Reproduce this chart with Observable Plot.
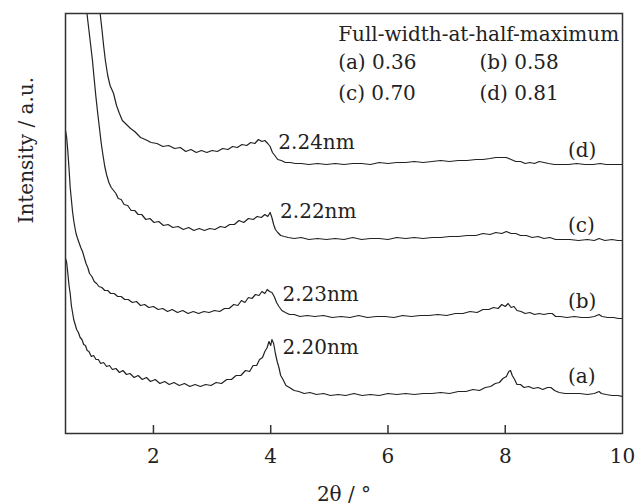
<!DOCTYPE html>
<html><head><meta charset="utf-8">
<script src="https://cdn.jsdelivr.net/npm/d3@7"></script>
<script src="https://cdn.jsdelivr.net/npm/@observablehq/plot@0.6"></script>
<style>html,body{margin:0;padding:0;background:#fff;overflow:hidden}</style>
</head><body><div id="chart"></div>
<script>
// XRD curves: [2θ (deg), intensity (a.u., offset)]
const curveA = [[0.50,175],[0.52,171],[0.54,160],[0.56,148],[0.58,140],[0.60,128],[0.62,121],[0.64,114],[0.66,110],[0.69,104],[0.72,101],[0.75,96],[0.78,94],[0.81,89],[0.84,88],[0.87,83],[0.90,82],[0.94,77],[0.98,78],[1.02,74],[1.06,74],[1.10,70],[1.15,71],[1.20,67],[1.25,68],[1.30,64],[1.36,65],[1.42,61],[1.48,63],[1.54,59],[1.60,60],[1.67,56],[1.74,58],[1.81,54],[1.88,56],[1.95,52],[2.03,54],[2.11,50],[2.19,52],[2.27,49],[2.35,51],[2.44,48],[2.53,50],[2.62,47],[2.71,49],[2.80,47],[2.89,49],[2.98,48],[3.07,51],[3.16,50],[3.25,54],[3.33,54],[3.41,58],[3.49,58],[3.57,63],[3.64,62],[3.70,68],[3.76,68],[3.81,74],[3.86,76],[3.90,82],[3.94,86],[3.97,92],[4.00,88],[4.02,94],[4.05,90],[4.08,80],[4.11,72],[4.14,66],[4.17,58],[4.21,54],[4.26,48],[4.32,46],[4.40,43],[4.48,42],[4.57,40],[4.67,41],[4.78,39],[4.90,40],[5.02,38],[5.15,39],[5.28,38],[5.42,40],[5.56,38],[5.70,39],[5.85,38],[6.00,40],[6.15,39],[6.30,40],[6.45,39],[6.60,40],[6.75,40],[6.90,41],[7.05,40],[7.20,42],[7.33,42],[7.45,44],[7.56,43],[7.66,46],[7.75,47],[7.83,50],[7.90,51],[7.96,55],[8.02,57],[8.06,62],[8.09,63],[8.12,58],[8.16,54],[8.20,49],[8.26,49],[8.32,46],[8.40,47],[8.48,45],[8.56,46],[8.64,44],[8.72,46],[8.78,46],[8.84,43],[8.92,41],[9.02,40],[9.15,40],[9.27,40],[9.40,39],[9.52,40],[9.60,42],[9.64,40],[9.72,39],[9.82,38],[9.92,38],[10.0,37]];
const curveB = [[0.50,303],[0.52,296],[0.54,282],[0.56,265],[0.58,246],[0.60,234],[0.62,222],[0.64,213],[0.66,206],[0.68,200],[0.70,196],[0.73,191],[0.76,186],[0.79,182],[0.82,176],[0.85,170],[0.88,166],[0.91,160],[0.95,157],[0.99,152],[1.03,150],[1.07,147],[1.12,146],[1.17,143],[1.22,143],[1.27,140],[1.33,140],[1.39,137],[1.45,137],[1.51,134],[1.57,134],[1.64,131],[1.71,132],[1.78,128],[1.85,129],[1.92,126],[2.00,127],[2.08,124],[2.16,125],[2.24,122],[2.32,124],[2.41,121],[2.50,123],[2.59,120],[2.68,122],[2.77,120],[2.86,122],[2.95,121],[3.04,123],[3.13,122],[3.21,125],[3.29,125],[3.37,129],[3.44,128],[3.50,133],[3.56,131],[3.62,136],[3.68,135],[3.74,139],[3.80,138],[3.85,142],[3.90,140],[3.94,144],[3.98,142],[4.02,141],[4.06,137],[4.10,131],[4.14,127],[4.19,123],[4.25,121],[4.32,119],[4.40,119],[4.50,117],[4.62,118],[4.75,117],[4.90,118],[5.05,116],[5.20,117],[5.35,116],[5.50,118],[5.65,116],[5.80,117],[5.95,117],[6.10,116],[6.25,118],[6.40,117],[6.55,118],[6.70,118],[6.85,119],[7.00,118],[7.15,120],[7.28,120],[7.40,122],[7.52,121],[7.62,124],[7.72,124],[7.80,126],[7.88,125],[7.94,129],[8.00,127],[8.05,130],[8.10,126],[8.15,127],[8.20,123],[8.27,122],[8.34,120],[8.42,121],[8.50,119],[8.58,120],[8.66,119],[8.74,120],[8.80,120],[8.86,117],[8.94,117],[9.05,116],[9.18,117],[9.30,116],[9.42,116],[9.52,117],[9.60,119],[9.65,117],[9.75,116],[9.85,116],[9.93,115],[10.0,115]];
const curveC = [[0.82,445],[0.86,423],[0.90,403],[0.93,388],[0.96,373],[0.99,354],[1.02,336],[1.05,320],[1.08,305],[1.11,290],[1.14,278],[1.17,267],[1.20,259],[1.24,251],[1.28,246],[1.32,243],[1.36,240],[1.40,235],[1.45,234],[1.50,229],[1.56,228],[1.62,223],[1.68,223],[1.74,219],[1.80,219],[1.87,214],[1.94,215],[2.01,211],[2.09,212],[2.17,208],[2.25,209],[2.33,206],[2.42,207],[2.51,204],[2.60,206],[2.69,203],[2.78,205],[2.87,203],[2.96,205],[3.05,204],[3.14,207],[3.22,206],[3.30,209],[3.38,209],[3.46,213],[3.54,211],[3.62,215],[3.70,214],[3.77,217],[3.84,216],[3.90,219],[3.95,217],[3.99,221],[4.02,216],[4.05,209],[4.08,204],[4.12,201],[4.17,198],[4.23,197],[4.30,196],[4.40,195],[4.52,196],[4.65,194],[4.80,195],[4.95,194],[5.10,195],[5.25,194],[5.40,196],[5.55,194],[5.70,195],[5.85,195],[6.00,194],[6.15,196],[6.30,195],[6.45,196],[6.60,195],[6.75,196],[6.90,196],[7.05,197],[7.20,197],[7.35,198],[7.50,198],[7.62,200],[7.74,199],[7.84,201],[7.94,200],[8.02,202],[8.10,200],[8.18,200],[8.26,198],[8.36,198],[8.46,196],[8.56,197],[8.66,195],[8.76,196],[8.86,194],[8.96,194],[9.10,194],[9.25,193],[9.40,194],[9.52,193],[9.60,195],[9.70,193],[9.82,194],[9.92,193],[10.0,193]];
const curveD = [[1.00,455],[1.05,435],[1.085,423],[1.12,405],[1.15,388],[1.18,373],[1.22,358],[1.26,348],[1.32,340],[1.37,328],[1.42,320],[1.47,313],[1.54,309],[1.61,305],[1.68,302],[1.78,296],[1.86,294],[1.96,291],[2.06,290],[2.16,287],[2.26,288],[2.36,285],[2.46,286],[2.55,282],[2.64,284],[2.73,281],[2.82,283],[2.91,281],[3.00,283],[3.09,282],[3.18,285],[3.27,284],[3.35,287],[3.43,286],[3.51,289],[3.59,288],[3.66,291],[3.73,290],[3.79,294],[3.85,292],[3.90,293],[3.95,290],[3.99,287],[4.03,281],[4.07,278],[4.12,274],[4.18,273],[4.25,271],[4.33,271],[4.42,270],[4.52,270],[4.65,269],[4.80,270],[4.95,269],[5.10,270],[5.25,269],[5.40,270],[5.55,270],[5.70,269],[5.85,271],[6.00,270],[6.15,271],[6.30,271],[6.45,272],[6.60,271],[6.75,272],[6.90,273],[7.05,272],[7.20,273],[7.35,273],[7.50,274],[7.62,274],[7.74,275],[7.84,276],[7.94,276],[8.02,276],[8.10,274],[8.18,272],[8.26,272],[8.34,270],[8.42,271],[8.50,270],[8.58,272],[8.66,271],[8.74,270],[8.84,269],[8.94,269],[9.08,269],[9.22,270],[9.36,269],[9.50,269],[9.62,270],[9.72,269],[9.84,269],[10.0,269]];

const xTicks = [2, 4, 6, 8, 10];
const fwhmTitle = "Full-width-at-half-maximum";
const fwhmLabels = ["(a) 0.36", "(b) 0.58", "(c) 0.70", "(d) 0.81"];
const fwhmX = [5.15, 7.56, 5.15, 7.56];
const fwhmY = [365, 365, 334, 334];
const spacingLabels = ["2.20nm", "2.23nm", "2.22nm", "2.24nm"];
const spacingX = [4.20, 4.20, 4.16, 4.13];
const spacingY = [80, 133, 216, 285];
const curveLabels = ["(a)", "(b)", "(c)", "(d)"];
const curveLabelX = [9.07, 9.07, 9.07, 9.07];
const curveLabelY = [51, 126, 202, 277];

const series = [["a", curveA], ["b", curveB], ["c", curveC], ["d", curveD]]
  .flatMap(([k, arr]) => arr.map(([x, y]) => ({k, x, y})));

const ink = "#222";
const font = "DejaVu Serif";
const fs = 20;
const txt = {textAnchor: "start", lineAnchor: "bottom", fontSize: fs, fill: ink, fontFamily: font};

const chart = Plot.plot({
  width: 636, height: 504,
  marginLeft: 65, marginRight: 14, marginTop: 13, marginBottom: 71,
  style: {fontFamily: font, fontSize: fs + "px", color: ink, background: "#fff"},
  x: {domain: [0.5, 10]},
  y: {domain: [0, 420], axis: null},
  marks: [
    Plot.lineY(series, {x: "x", y: "y", z: "k", stroke: ink, strokeWidth: 1.2, clip: true}),
    Plot.ruleX(xTicks.filter(t => t < 10), {x: d => d, y1: 0, y2: 8, stroke: "#333", strokeWidth: 1.5}),
    Plot.axisX(xTicks, {tickSize: 0, tickPadding: 15, label: null, fontSize: fs, fill: ink, fontFamily: font}),
    Plot.frame({stroke: "#333", strokeWidth: 1.5}),
    Plot.text([fwhmTitle], {...txt, x: () => 5.15, y: () => 393}),
    Plot.text(fwhmLabels, {...txt, x: (d, i) => fwhmX[i], y: (d, i) => fwhmY[i]}),
    Plot.text(spacingLabels, {...txt, x: (d, i) => spacingX[i], y: (d, i) => spacingY[i]}),
    Plot.text(curveLabels, {...txt, x: (d, i) => curveLabelX[i], y: (d, i) => curveLabelY[i]}),
    Plot.text(["2θ / °"], {frameAnchor: "bottom", dy: 67, lineAnchor: "bottom", fontSize: fs, fill: ink, fontFamily: font}),
    Plot.text(["Intensity / a.u."], {frameAnchor: "left", rotate: -90, dx: -33, lineAnchor: "bottom", fontSize: fs, fill: ink, fontFamily: font})
  ]
});
document.getElementById("chart").appendChild(chart);
</script>
</body></html>
